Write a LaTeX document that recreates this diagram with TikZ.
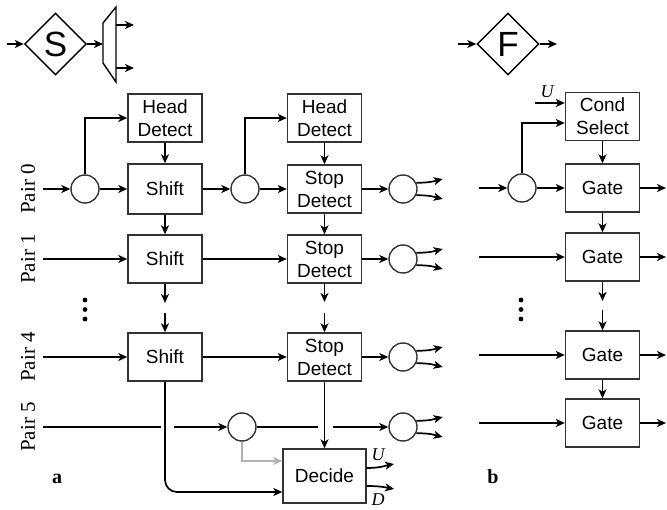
\documentclass[tikz,border=0pt]{standalone}
\usepackage{fontspec}
\setmainfont{Liberation Serif}
\setsansfont{Liberation Sans}
\usetikzlibrary{arrows.meta, positioning, calc, shapes.geometric}

\begin{document}
\begin{tikzpicture}[
    x=1pt, y=-1pt,
    block/.style={
        rectangle, draw=black!80, line width=1.4pt, minimum width=74pt,
        minimum height=48pt, inner sep=0pt, align=center,
        font=\sffamily\fontsize{19}{23}\selectfont
    },
    junc/.style={circle, draw=black!80, line width=1.4pt, minimum size=28pt, inner sep=0pt},
    opdiamond/.style={
        diamond, draw, line width=1.4pt, minimum width=62pt, minimum height=62pt,
        inner sep=0pt, font=\sffamily\fontsize{35}{40}\selectfont
    },
    pair/.style={rotate=90, font=\fontsize{21}{24}\selectfont},
    panel/.style={anchor=base, font=\bfseries\fontsize{20}{24}\selectfont},
    sig/.style={font=\itshape\fontsize{18}{22}\selectfont},
    arr/.style={-{Stealth[length=9pt,width=8pt,inset=2.5pt]}, line width=1.7pt},
    wire/.style={line width=1.7pt},
]
\useasboundingbox (0,0) rectangle (667,510);

% Symbols on top
\node[opdiamond] (S) at (55.5,44) {S};
\coordinate (sin) at (7,44);
\coordinate (muxin) at (103,44);
\draw[line width=1.4pt] (103,23) -- (116,7) -- (116,82) -- (103,63) -- cycle;
\coordinate (muxa) at (116,25);
\coordinate (muxb) at (116,68);
\coordinate (muxaout) at (134,25);
\coordinate (muxbout) at (134,68);
\draw[arr] (sin) -- (S);
\draw[arr] (S) -- (muxin);
\draw[arr] (muxa) -- (muxaout);
\draw[arr] (muxb) -- (muxbout);

\node[opdiamond] (F) at (508,44) {F};
\coordinate (fin) at (458,44);
\coordinate (fout) at (557,44);
\draw[arr] (fin) -- (F);
\draw[arr] (F) -- (fout);

% Panel a: nodes
\node[pair] (p0) at (28,189) {Pair 0};
\node[pair] (p1) at (28,259) {Pair 1};
\node[pair] (p4) at (28,357) {Pair 4};
\node[pair] (p5) at (28,427) {Pair 5};

\coordinate (in0) at (43,189);
\coordinate (in1) at (43,259);
\coordinate (in4) at (43,357);
\coordinate (in5) at (43,427);

\node[junc] (c0) at (85,189) {};
\node[block] (hd0) at (165,118) {Head\\Detect};
\node[block, minimum height=50pt] (sh0) at (165,189) {Shift};
\node[junc] (c1) at (245,189) {};
\node[block] (hd1) at (324.5,118) {Head\\Detect};
\node[block] (sd0) at (324.5,189) {Stop\\Detect};
\node[junc] (o0) at (403,189) {};

\node[block] (sh1) at (165,259) {Shift};
\node[block] (sd1) at (324.5,259) {Stop\\Detect};
\node[junc] (o1) at (403,259) {};

\node[block] (sh4) at (165,357) {Shift};
\node[block] (sd4) at (324.5,357) {Stop\\Detect};
\node[junc] (o4) at (403,357) {};

\node[junc] (c5) at (242,427) {};
\node[junc] (o5) at (403,427) {};

\node[block, minimum width=83pt, minimum height=54pt] (dec) at (324.5,476) {Decide};

\coordinate (sh1d) at (165,303);
\coordinate (sh4u) at (165,313);
\coordinate (sd1d) at (324.5,302);
\coordinate (sd4u) at (324.5,313);
\coordinate (gapa) at (161,427);
\coordinate (gapb) at (174,427);
\coordinate (gapc) at (318,427);
\coordinate (gapd) at (333,427);

\foreach \y in {300,309.5,319} \fill (85,\y) circle (2.4pt);

% Panel a: edges
\draw[arr] (in0) -- (c0);
\draw[arr] (c0) -- (sh0);
\draw[arr] (c0.north) |- (hd0.west);
\draw[arr] (hd0) -- (sh0);
\draw[arr] (sh0) -- (c1);
\draw[arr] (c1) -- (sd0);
\draw[arr] (c1.north) |- (hd1.west);
\draw[arr] (hd1) -- (sd0);
\draw[arr] (sd0) -- (o0);

\draw[arr] (sh0) -- (sh1);
\draw[arr] (sd0) -- (sd1);
\draw[arr] (in1) -- (sh1);
\draw[arr] (sh1) -- (sd1);
\draw[arr] (sd1) -- (o1);

\draw[arr] (sh1) -- (sh1d);
\draw[arr] (sh4u) -- (sh4);
\draw[arr] (sd1) -- (sd1d);
\draw[arr] (sd4u) -- (sd4);

\draw[arr] (in4) -- (sh4);
\draw[arr] (sh4) -- (sd4);
\draw[arr] (sd4) -- (o4);

\draw[wire] (in5) -- (gapa);
\draw[arr] (gapb) -- (c5);
\draw[wire] (c5) -- (gapc);
\draw[arr] (gapd) -- (o5);

\draw[arr] (sd4) -- (dec);
\draw[arr, gray!60] (c5.south) |- ([yshift=15pt]dec.west);
\draw[arr, rounded corners=12pt] (sh4.south) |- ([yshift=-16pt]dec.west);

% forks
\foreach \r in {0,1,4,5} {
    \coordinate (fu\r) at ($(o\r.east)+(25,-10)$);
    \coordinate (fd\r) at ($(o\r.east)+(25,10)$);
    \draw[arr] (o\r.25) .. controls +(14,0) and +(-8,2) .. (fu\r);
    \draw[arr] (o\r.-25) .. controls +(14,0) and +(-8,-2) .. (fd\r);
}

\coordinate (uo) at (394,464);
\coordinate (do) at (394,489);
\draw[arr] ([yshift=8pt]dec.east) .. controls +(14,0) and +(-8,1.5) .. (uo);
\draw[arr] ([yshift=-10pt]dec.east) .. controls +(14,0) and +(-8,-1.5) .. (do);
\node[sig] (ul) at (378,455) {U};
\node[sig] (dl) at (378,500) {D};

\node[panel] (la) at (57,483) {a};

% Panel b: nodes
\node[block] (cs) at (602.5,116.5) {Cond\\Select};
\node[junc] (cf) at (522,188) {};
\node[block] (g0) at (602.5,188) {Gate};
\node[block] (g1) at (602.5,257) {Gate};
\node[block] (g4) at (602.5,355) {Gate};
\node[block] (g5) at (602.5,423) {Gate};

\coordinate (uin) at (535,103);
\node[sig] (ub) at (547,92) {U};

\coordinate (fi0) at (479,188);
\coordinate (fi1) at (479,257);
\coordinate (fi4) at (479,355);
\coordinate (fi5) at (479,423);
\coordinate (fo0) at (666,188);
\coordinate (fo1) at (666,257);
\coordinate (fo4) at (666,355);
\coordinate (fo5) at (666,423);
\coordinate (g1d) at (602.5,301);
\coordinate (g4u) at (602.5,310);

\foreach \y in {300,309.5,319} \fill (521,\y) circle (2.4pt);

% Panel b: edges
\draw[arr] (uin) -- (uin -| cs.west);
\draw[arr] (cf.north) |- ([yshift=-6.5pt]cs.west);
\draw[arr] (cs) -- (g0);
\draw[arr] (fi0) -- (cf);
\draw[arr] (cf) -- (g0);
\draw[arr] (g0) -- (g1);
\draw[arr] (g1) -- (g1d);
\draw[arr] (g4u) -- (g4);
\draw[arr] (g4) -- (g5);
\draw[arr] (fi1) -- (g1);
\draw[arr] (fi4) -- (g4);
\draw[arr] (fi5) -- (g5);
\draw[arr] (g0) -- (fo0);
\draw[arr] (g1) -- (fo1);
\draw[arr] (g4) -- (fo4);
\draw[arr] (g5) -- (fo5);

\node[panel] (lb) at (493,483) {b};

\end{tikzpicture}
\end{document}
